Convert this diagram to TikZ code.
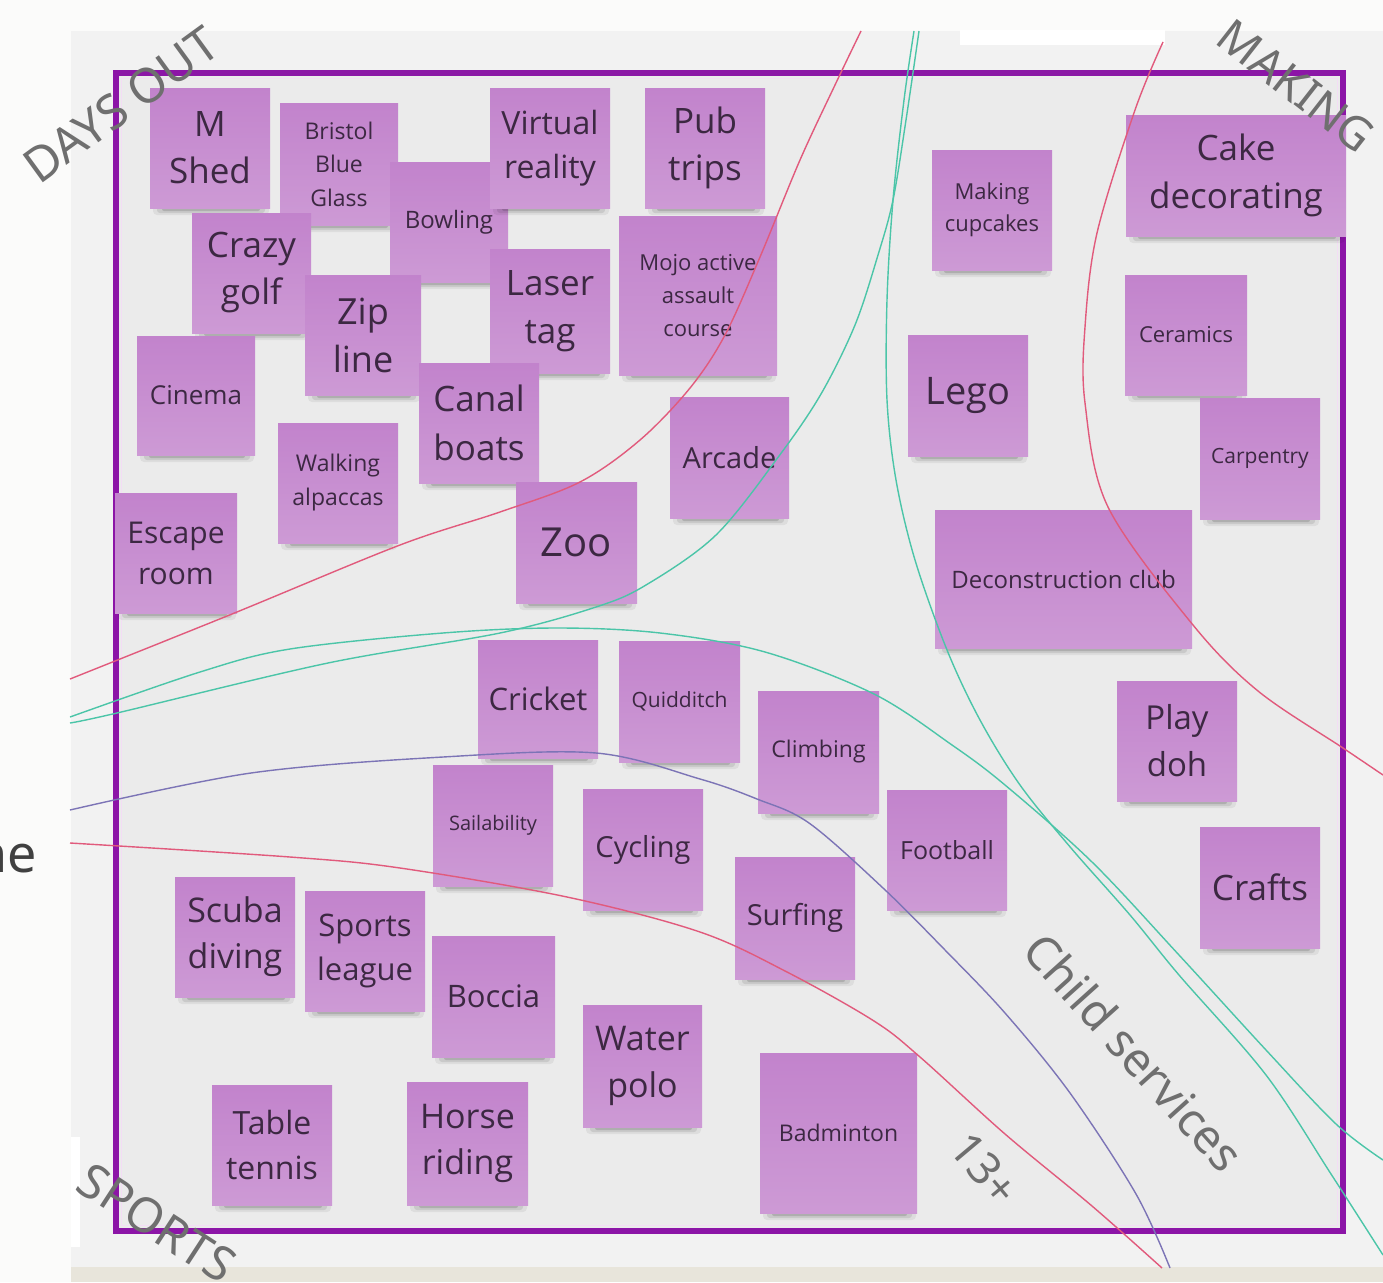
\documentclass[tikz,border=0pt]{standalone}
\usepackage{fontspec}
\setmainfont{Open Sans}
\newfontfamily\labelfont{Noto Sans}
\definecolor{pagebg}{HTML}{FBFBFA}
\definecolor{boardbg}{HTML}{F2F2F2}
\definecolor{insidebg}{HTML}{EBEBEB}
\definecolor{stripbg}{HTML}{E8E5DB}
\definecolor{framecol}{HTML}{8C15A7}
\definecolor{framelight}{HTML}{F3DDF5}
\definecolor{stickytop}{HTML}{C283CC}
\definecolor{stickybot}{HTML}{CD9AD5}
\definecolor{stickytxt}{HTML}{3C2842}
\definecolor{redln}{HTML}{E15A7C}
\definecolor{tealln}{HTML}{4BC5A8}
\definecolor{purpln}{HTML}{7C74B6}
\definecolor{lblgray}{HTML}{6F6F6F}
\definecolor{negray}{HTML}{404040}
\newcommand\stk[8]{%
  \fill[black,opacity=0.06,rounded corners=4] (#2+3,#5-10) rectangle (#4-1,#5+7);
  \fill[black,opacity=0.09,rounded corners=3] (#2+7,#5-8) rectangle (#4-5,#5+5);
  \fill[black,opacity=0.13,rounded corners=2] (#2+12,#5-5) rectangle (#4-10,#5+3);
  \shade[top color=stickytop,bottom color=stickybot] (#2,#3) rectangle (#4,#5);
  \node[stickytext,font=\fontsize{#6}{#7}\selectfont] (#1) at ({(#2+#4)/2},{(#3+#5)/2}) {#8};
}
\begin{document}
\begin{tikzpicture}[x=1pt,y=-1pt,
  stickytext/.style={inner sep=0pt,align=center,text=stickytxt},
  curve/.style={line width=1.4pt},
  redcurve/.style={curve,draw=redln},
  tealcurve/.style={curve,draw=tealln},
  purpcurve/.style={curve,draw=purpln},
  lbl/.style={inner sep=0pt,text=lblgray,font=\labelfont\fontsize{48}{54}\selectfont}]
\useasboundingbox (0,0) rectangle (1383,1282);
% background and board
\fill[pagebg] (0,0) rectangle (1383,1282);
\fill[boardbg] (71,31) rectangle (1383,1267);
\fill[white] (960,30) rectangle (1165,45);
\fill[white] (71,1137) rectangle (80,1247);
\fill[stripbg] (71,1267) rectangle (1383,1282);
\fill[insidebg] (116,73) rectangle (1343,1231);
\draw[framecol,line width=6.5] (116,73) rectangle (1343,1231);
\draw[framelight,line width=1.5] (121.5,78.5) rectangle (1337.5,1225.5);
% sticky notes: DAYS OUT
\stk{mshed}{150}{88}{270}{208}{35}{47}{M\\Shed}
\stk{bristol}{280}{103}{398}{225}{23}{33.5}{Bristol\\Blue\\Glass}
\stk{bowling}{390}{162}{508}{282}{24}{32}{Bowling}
\stk{virtual}{490}{88}{610}{208}{32}{44}{Virtual\\reality}
\stk{pub}{645}{88}{765}{208}{35}{47}{Pub\\trips}
\stk{crazy}{192}{213}{311}{333}{35}{47}{Crazy\\golf}
\stk{zip}{305}{275}{421}{395}{36}{48}{Zip\\line}
\stk{laser}{490}{249}{610}{373}{35}{48}{Laser\\tag}
\stk{mojo}{619}{216}{777}{375}{22}{33}{Mojo active\\assault\\course}
\stk{cinema}{137}{336}{255}{455}{26}{34}{Cinema}
\stk{canal}{419}{363}{539}{483}{35}{49}{Canal\\boats}
\stk{walking}{278}{423}{398}{543}{23}{34}{Walking\\alpaccas}
\stk{arcade}{670}{397}{789}{518}{29}{38}{Arcade}
\stk{zoo}{516}{482}{637}{603}{40}{50}{Zoo}
\stk{escape}{115}{493}{237}{613}{30}{41}{Escape\\room}
% MAKING
\stk{cupcakes}{932}{150}{1052}{270}{22}{32}{Making\\cupcakes}
\stk{cake}{1126}{115}{1346}{236}{35}{48}{Cake\\decorating}
\stk{ceramics}{1125}{275}{1247}{395}{22}{30}{Ceramics}
\stk{lego}{908}{335}{1028}{456}{38}{48}{Lego}
\stk{carpentry}{1200}{398}{1320}{519}{21}{30}{Carpentry}
\stk{decon}{935}{510}{1192}{648}{24}{32}{Deconstruction club}
\stk{playdoh}{1117}{681}{1237}{801}{33}{47}{Play\\doh}
\stk{crafts}{1200}{827}{1320}{948}{35}{45}{Crafts}
% SPORTS
\stk{cricket}{478}{640}{598}{758}{31}{40}{Cricket}
\stk{quidditch}{619}{641}{740}{762}{21}{30}{Quidditch}
\stk{climbing}{758}{691}{879}{813}{23}{32}{Climbing}
\stk{sailability}{433}{765}{553}{886}{20}{30}{Sailability}
\stk{cycling}{583}{789}{703}{910}{29}{38}{Cycling}
\stk{football}{887}{790}{1007}{910}{25}{34}{Football}
\stk{surfing}{735}{857}{855}{979}{29}{38}{Surfing}
\stk{scuba}{175}{877}{295}{997}{34}{46}{Scuba\\diving}
\stk{sports}{305}{891}{425}{1011}{31}{44}{Sports\\league}
\stk{boccia}{432}{936}{555}{1057}{31}{40}{Boccia}
\stk{waterpolo}{583}{1005}{702}{1127}{34}{47}{Water\\polo}
\stk{badminton}{760}{1053}{917}{1213}{23}{32}{Badminton}
\stk{table}{212}{1085}{332}{1205}{32}{45}{Table\\tennis}
\stk{horse}{407}{1082}{528}{1205}{34}{46}{Horse\\riding}
% curves
\draw[redcurve] plot[smooth,tension=0.55] coordinates {(70,679) (232,614) (400,545) (500,512) (580,482) (640,440) (690,388) (725,335) (760,257) (800,160) (835,85) (861,31)};
\draw[redcurve] plot[smooth,tension=0.55] coordinates {(1163,42) (1135,110) (1097,233) (1085,327) (1085,403) (1108,507) (1193,625) (1258,691) (1343,748) (1383,775)};
\draw[redcurve] plot[smooth,tension=0.55] coordinates {(70,843) (290,857) (400,868) (567,897) (700,932) (787,972) (874,1021) (920,1057) (1005,1134) (1092,1206) (1162,1268)};
\draw[tealcurve] plot[smooth,tension=0.55] coordinates {(919,31) (906,120) (893,200) (878,255) (855,325) (821,394) (779,456) (716,535) (646,585) (596,607) (500,633) (328,663) (117,713) (70,723)};
\draw[tealcurve] plot[smooth,tension=0.55] coordinates {(70,717) (200,672) (290,649) (443,633) (557,628) (660,633) (765,652) (874,694) (952,745) (1005,785) (1092,862) (1179,955) (1266,1050) (1336,1124) (1383,1160)};
\draw[tealcurve] plot[smooth,tension=0.55] coordinates {(914,31) (904,100) (893,200) (887,300) (887,400) (896,480) (915,560) (947,650) (980,720) (1020,785) (1071,848) (1130,915) (1179,975) (1266,1075) (1331,1174) (1383,1255)};
\draw[purpcurve] plot[smooth,tension=0.55] coordinates {(70,810) (251,773) (443,757) (596,753) (700,779) (757,799) (809,823) (883,888) (945,950) (1005,1013) (1070,1093) (1136,1194) (1170,1268)};
% labels
\node[lbl,rotate=36] (daysout) at (121,105) {DAYS OUT};
\node[lbl,rotate=-38,font=\labelfont\fontsize{46}{52}\selectfont] (making) at (1296,86) {MAKING};
\node[lbl,rotate=-33] (sportslbl) at (157,1223) {SPORTS};
\node[lbl,rotate=-48,font=\labelfont\fontsize{47}{53}\selectfont] (child) at (1134,1052) {Child services};
\node[lbl,rotate=-50,font=\labelfont\fontsize{45}{51}\selectfont] (thirteen) at (985,1169) {13+};
\node[inner sep=0pt,anchor=base east,text=negray,font=\labelfont\fontsize{52}{60}\selectfont] (ne) at (37,872) {ne};
\end{tikzpicture}
\end{document}
